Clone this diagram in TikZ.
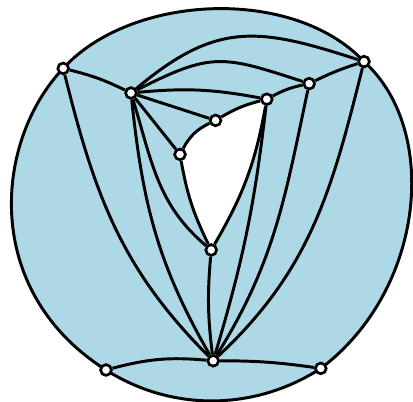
\documentclass[tikz,border=0pt]{standalone}
\usepackage{tikz}
\usetikzlibrary{backgrounds}
\definecolor{ink}{HTML}{000000}
\definecolor{lakeblue}{HTML}{ADD8E6}

\begin{document}
\begin{tikzpicture}[
        v/.style={circle,draw=ink,fill=white,line width=1.9pt,inner sep=2.7pt},
        e/.style={ink,line width=2.1pt}]
        \useasboundingbox (0,0) rectangle (10.325,10.05);
        \node[v] (a) at (1.58,8.34) {};
        \node[v] (b) at (3.275,7.725) {};
        \node[v] (c) at (5.39,7.04) {};
        \node[v] (d) at (4.5,6.19) {};
        \node[v] (e) at (6.67,7.57) {};
        \node[v] (f) at (7.73,7.96) {};
        \node[v] (g) at (9.1,8.51) {};
        \node[v] (h) at (5.28,3.8) {};
        \node[v] (i) at (5.33,1.03) {};
        \node[v] (j) at (2.65,0.8) {};
        \node[v] (k) at (8.02,0.84) {};
        \begin{scope}[on background layer]
          % disk and hole
          \filldraw[e,fill=lakeblue] (a.center)
            .. controls (3.275,10.2) and (7.325,10.4) .. (g.center)
            .. controls (11,6.8) and (10.625,2.8) .. (k.center)
            .. controls (6.375,-0.225) and (4.3,-0.25) .. (j.center)
            .. controls (-0.5,2.8) and (-0.125,6.55) .. (a.center) -- cycle;
          \fill[white] (d.center) to[bend left=18] (c.center)
            to[bend left=8] (e.center) to[bend left=10] (h.center)
            to[bend left=8] (d.center) -- cycle;
        \end{scope}
        \foreach \u/\w/\b in {a/b/6,b/c/0,b/d/0,d/c/18,c/e/8,e/f/8,f/g/4,b/e/8,
            e/h/10,d/h/-8,e/i/5,h/i/-6,j/i/10,i/k/4}
          \draw[e] (\u) to[bend left=\b] (\w);
        \foreach \u/\w/\o/\n/\l in {a/i/-76/135/1,b/i/-84/120/1,b/h/-73/140/1,
            f/i/-102/58/1,g/i/-104/43/1,b/g/40/162/1.2,b/f/27/162/1.3}
          \draw[e] (\u) to[out=\o,in=\n,looseness=\l] (\w);
      \end{tikzpicture}
\end{document}
